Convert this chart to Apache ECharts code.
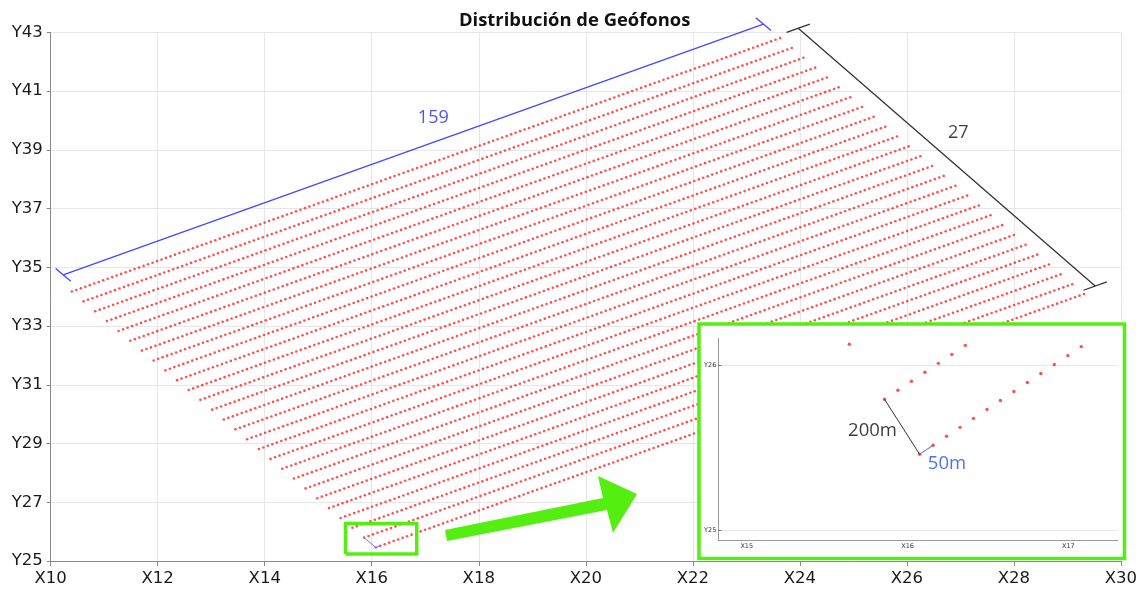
<!DOCTYPE html>
<html><head><meta charset="utf-8">
<script src="https://cdn.jsdelivr.net/npm/echarts@6/dist/echarts.min.js"></script>
<style>html,body{margin:0;padding:0;background:#fff}#c{width:1140px;height:590px}</style>
</head><body><div id="c"></div>
<script>
// ---- chart values ----
const chartTitle = 'Distribución de Geófonos';
const xTicks = [10, 12, 14, 16, 18, 20, 22, 24, 26, 28, 30];
const yTicks = [25, 27, 29, 31, 33, 35, 37, 39, 41, 43];
const insetXTicks = [15, 16, 17];
const insetYTicks = [25, 26];
const lineCount = 27;            // receiver lines (label "27")
const stationsPerLine = 159;     // geophones per line (label "159")
const stationSpacingM = 50;      // label "50m"
const lineSpacingM = 200;        // label "200m"
const metersPerUnit = 500;       // one axis unit
const lastLineStart = [16.075, 25.461]; // first geophone of the lowest line
const lineAzimuthDeg = 33.1;     // direction of the lines from the x axis
const bracket159 = [[10.234, 34.74], [23.32, 43.28]];
const bracket27 = [[23.97, 43.14], [29.52, 34.36]];
const mainLabels = [['159', 17.15, 40.08], ['27', 26.96, 39.56]];
const insetLabels = [['200m', 15.782, 25.603], ['50m', 16.245, 25.402]];
const zoomBox = [15.51, 25.24, 16.84, 26.28];

// ---- build geophone positions from the survey parameters ----
const az = lineAzimuthDeg * Math.PI / 180;
const stepU = stationSpacingM / metersPerUnit;
const crossU = lineSpacingM / metersPerUnit;
const along = [Math.cos(az) * stepU, Math.sin(az) * stepU];
const cross = [-Math.sin(az) * crossU, Math.cos(az) * crossU];
const geophones = [];
const lineStarts = [];
for (let i = 0; i < lineCount; i++) {
  const off = lineCount - 1 - i;
  const sx = lastLineStart[0] + off * cross[0], sy = lastLineStart[1] + off * cross[1];
  lineStarts.push([sx, sy]);
  for (let k = 0; k < stationsPerLine; k++) geophones.push([sx + k * along[0], sy + k * along[1]]);
}
const l27 = lineStarts[lineCount - 1], l26 = lineStarts[lineCount - 2];
const seg200 = [l26, l27];
const seg50 = [l27, [l27[0] + along[0], l27[1] + along[1]]];

// bracket end ticks
const perpU = [Math.sin(az), -Math.cos(az)], alongU = [Math.cos(az), Math.sin(az)];
function tick(p, d, h) { return [[p[0] - d[0] * h, p[1] - d[1] * h], [p[0] + d[0] * h, p[1] + d[1] * h]]; }
const blue = '#4646ff', green = '#55ee11';

const chart = echarts.init(document.getElementById('c'), null, {renderer: 'canvas'});
const axisGray = '#8a8a8a';
const option = {
  animation: false,
  title: {text: chartTitle, left: 459, top: 12, padding: 0,
    textStyle: {fontSize: 18.4, fontWeight: 'bold', fontFamily: 'Open Sans', color: '#111'}},
  grid: [
    {left: 50.7, right: 13.5, top: 32.3, bottom: 29},
    {left: 718.3, right: 22.3, top: 338.3, bottom: 50}
  ],
  xAxis: [
    {type: 'value', gridIndex: 0, min: xTicks[0], max: xTicks[xTicks.length - 1], interval: 2,
     axisLine: {show: true, lineStyle: {color: axisGray}},
     axisTick: {show: true, length: 5, lineStyle: {color: axisGray}},
     axisLabel: {formatter: v => 'X' + v, fontSize: 16.5, fontFamily: 'DejaVu Sans', color: '#1a1a1a', margin: 9},
     splitLine: {show: true, lineStyle: {color: '#e6e6e6'}}},
    {type: 'value', gridIndex: 1, min: 14.823, max: 17.307, zlevel: 1, z: 10,
     axisLine: {show: true, onZero: false, lineStyle: {color: '#9a9a9a'}},
     axisTick: {show: false},
     axisLabel: {customValues: insetXTicks, formatter: v => 'X' + v, fontSize: 6.5, fontFamily: 'DejaVu Sans', color: '#333', margin: 3},
     splitLine: {show: false}}
  ],
  yAxis: [
    {type: 'value', gridIndex: 0, min: yTicks[0], max: yTicks[yTicks.length - 1], interval: 2,
     axisLine: {show: true, lineStyle: {color: axisGray}},
     axisTick: {show: true, length: 4, lineStyle: {color: axisGray}},
     axisLabel: {formatter: v => 'Y' + v, fontSize: 16.5, fontFamily: 'DejaVu Sans', color: '#1a1a1a', margin: 8},
     splitLine: {show: true, lineStyle: {color: '#e6e6e6'}}},
    {type: 'value', gridIndex: 1, min: 24.939, max: 26.167, zlevel: 1, z: 10,
     axisLine: {show: true, onZero: false, lineStyle: {color: '#9a9a9a'}},
     axisTick: {show: true, inside: true, length: 3, customValues: insetYTicks, lineStyle: {color: '#777'}},
     axisLabel: {customValues: insetYTicks, formatter: v => 'Y' + v, fontSize: 6.5, fontFamily: 'DejaVu Sans', color: '#333', margin: 2},
     splitLine: {show: false}}
  ],
  graphic: [
    {type: 'polygon', zlevel: 1, z: 1, shape: {points: [[445, 530], [603, 498], [598, 476], [637, 494], [613, 533], [607, 510], [447, 541]]},
     style: {fill: green}}
  ],
  series: [
    {type: 'scatter', xAxisIndex: 0, yAxisIndex: 0, data: geophones, symbolSize: 2.6, silent: true, z: 2,
     itemStyle: {color: '#ff2424'}},
    {type: 'lines', coordinateSystem: 'cartesian2d', xAxisIndex: 0, yAxisIndex: 0, silent: true, z: 3, clip: false,
     data: [
       {coords: bracket159, lineStyle: {color: blue, width: 1.3, opacity: 1}},
       {coords: tick(bracket159[0], perpU, 0.26), lineStyle: {color: blue, width: 1.3, opacity: 1}},
       {coords: tick(bracket159[1], perpU, 0.26), lineStyle: {color: blue, width: 1.3, opacity: 1}},
       {coords: bracket27, lineStyle: {color: '#333', width: 1.3, opacity: 1}},
       {coords: tick(bracket27[0], alongU, 0.26), lineStyle: {color: '#333', width: 1.3, opacity: 1}},
       {coords: tick(bracket27[1], alongU, 0.26), lineStyle: {color: '#333', width: 1.3, opacity: 1}},
       {coords: seg200, lineStyle: {color: '#7070ff', width: 1, opacity: 1}},
       {coords: seg50, lineStyle: {color: '#7070ff', width: 1, opacity: 1}}
     ]},
    {type: 'lines', coordinateSystem: 'cartesian2d', xAxisIndex: 0, yAxisIndex: 0, polyline: true, silent: true, z: 4, clip: false,
     data: [{coords: [[zoomBox[0], zoomBox[1]], [zoomBox[2], zoomBox[1]], [zoomBox[2], zoomBox[3]], [zoomBox[0], zoomBox[3]], [zoomBox[0], zoomBox[1]]]}],
     lineStyle: {color: green, width: 3.5, opacity: 1}},
    {type: 'scatter', xAxisIndex: 0, yAxisIndex: 0, symbolSize: 0, silent: true, z: 4,
     data: mainLabels.map((d, i) => ({name: d[0], value: [d[1], d[2]],
       label: {show: true, position: 'inside', formatter: '{b}', fontSize: 18, fontFamily: 'Open Sans', color: i === 0 ? '#2424f0' : '#111'}}))},
    // inset panel background + frame
    {type: 'custom', xAxisIndex: 1, yAxisIndex: 1, silent: true, zlevel: 1, z: 1, clip: false, data: [[16, 25.5]],
     renderItem: () => ({type: 'rect', shape: {x: 699, y: 324, width: 425.5, height: 234.5},
       style: {fill: '#ffffff', stroke: green, lineWidth: 3.5}})},
    // inset
    {type: 'scatter', xAxisIndex: 1, yAxisIndex: 1, data: [], silent: true, zlevel: 1, z: 11,
     markLine: {silent: true, symbol: 'none', label: {show: false}, animation: false,
       lineStyle: {color: '#e8e8e8', type: 'solid', width: 1}, data: insetYTicks.map(v => ({yAxis: v}))}},
    {type: 'scatter', xAxisIndex: 1, yAxisIndex: 1, data: geophones, symbolSize: 3.4, silent: true, zlevel: 1, z: 12,
     itemStyle: {color: '#ff2424'}},
    {type: 'lines', coordinateSystem: 'cartesian2d', xAxisIndex: 1, yAxisIndex: 1, silent: true, zlevel: 1, z: 12,
     data: [
       {coords: seg200, lineStyle: {color: '#333', width: 1, opacity: 1}},
       {coords: seg50, lineStyle: {color: '#3366ff', width: 1, opacity: 1}}
     ]},
    {type: 'scatter', xAxisIndex: 1, yAxisIndex: 1, symbolSize: 0, silent: true, zlevel: 1, z: 13,
     data: insetLabels.map((d, i) => ({name: d[0], value: [d[1], d[2]],
       label: {show: true, position: 'inside', formatter: '{b}', fontSize: 18.5, fontFamily: 'Open Sans', color: i === 0 ? '#0a0a0a' : '#1f4fee'}}))}
  ]
};
chart.setOption(option);
</script></body></html>
